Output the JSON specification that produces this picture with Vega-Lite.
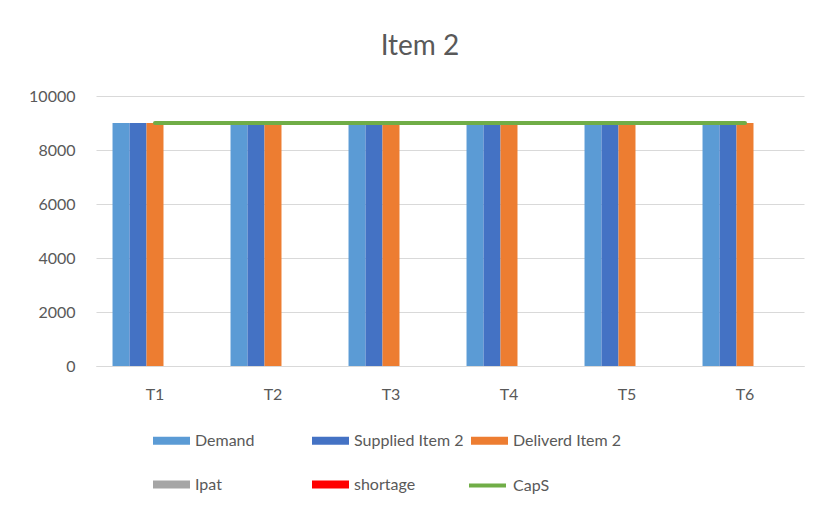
{
  "$schema": "https://vega.github.io/schema/vega-lite/v6.json",
  "autosize": "none",
  "width": 708,
  "height": 270,
  "padding": {"left": 96, "top": 96, "right": 17, "bottom": 146},
  "background": "white",
  "title": {"text": "Item 2", "fontSize": 28, "font": "Lato", "fontWeight": "normal", "color": "#595959", "anchor": "middle", "dx": -30, "offset": 27},
  "config": {
    "view": {"stroke": null},
    "font": "Lato"
  },
  "data": {
    "values": [
      {"t": "T1", "series": "Demand", "value": 9000},
      {"t": "T1", "series": "Supplied Item 2", "value": 9000},
      {"t": "T1", "series": "Deliverd Item 2", "value": 9000},
      {"t": "T1", "series": "Ipat", "value": 0},
      {"t": "T1", "series": "shortage", "value": 0},
      {"t": "T1", "series": "CapS", "value": 9000},
      {"t": "T2", "series": "Demand", "value": 9000},
      {"t": "T2", "series": "Supplied Item 2", "value": 9000},
      {"t": "T2", "series": "Deliverd Item 2", "value": 9000},
      {"t": "T2", "series": "Ipat", "value": 0},
      {"t": "T2", "series": "shortage", "value": 0},
      {"t": "T2", "series": "CapS", "value": 9000},
      {"t": "T3", "series": "Demand", "value": 9000},
      {"t": "T3", "series": "Supplied Item 2", "value": 9000},
      {"t": "T3", "series": "Deliverd Item 2", "value": 9000},
      {"t": "T3", "series": "Ipat", "value": 0},
      {"t": "T3", "series": "shortage", "value": 0},
      {"t": "T3", "series": "CapS", "value": 9000},
      {"t": "T4", "series": "Demand", "value": 9000},
      {"t": "T4", "series": "Supplied Item 2", "value": 9000},
      {"t": "T4", "series": "Deliverd Item 2", "value": 9000},
      {"t": "T4", "series": "Ipat", "value": 0},
      {"t": "T4", "series": "shortage", "value": 0},
      {"t": "T4", "series": "CapS", "value": 9000},
      {"t": "T5", "series": "Demand", "value": 9000},
      {"t": "T5", "series": "Supplied Item 2", "value": 9000},
      {"t": "T5", "series": "Deliverd Item 2", "value": 9000},
      {"t": "T5", "series": "Ipat", "value": 0},
      {"t": "T5", "series": "shortage", "value": 0},
      {"t": "T5", "series": "CapS", "value": 9000},
      {"t": "T6", "series": "Demand", "value": 9000},
      {"t": "T6", "series": "Supplied Item 2", "value": 9000},
      {"t": "T6", "series": "Deliverd Item 2", "value": 9000},
      {"t": "T6", "series": "Ipat", "value": 0},
      {"t": "T6", "series": "shortage", "value": 0},
      {"t": "T6", "series": "CapS", "value": 9000}
    ]
  },
  "encoding": {
    "x": {
      "field": "t", "type": "nominal", "title": null,
      "scale": {"paddingInner": 0.28, "paddingOuter": 0.14},
      "axis": {"labelAngle": 0, "labelFontSize": 16, "labelColor": "#595959", "labelPadding": 20, "ticks": false, "domainColor": "#D9D9D9", "domainWidth": 1, "grid": false}
    },
    "y": {
      "field": "value", "type": "quantitative", "title": null,
      "scale": {"domain": [0, 10000], "nice": false},
      "axis": {"values": [0, 2000, 4000, 6000, 8000, 10000], "format": "d", "labelFontSize": 16, "labelColor": "#595959", "labelPadding": 21, "ticks": false, "domain": false, "gridColor": "#D9D9D9", "gridWidth": 1}
    }
  },
  "layer": [
    {
      "transform": [{"filter": "datum.series !== 'CapS'"}],
      "mark": {"type": "bar"},
      "encoding": {
        "xOffset": {"field": "series", "type": "nominal", "sort": ["Demand", "Supplied Item 2", "Deliverd Item 2", "Ipat", "shortage"], "scale": {"paddingInner": 0, "paddingOuter": 0}},
        "color": {
          "field": "series", "type": "nominal",
          "scale": {
            "domain": ["Demand", "Supplied Item 2", "Deliverd Item 2", "Ipat", "shortage"],
            "range": ["#5B9BD5", "#4472C4", "#ED7D31", "#A5A5A5", "#FF0000"]
          },
          "legend": {
            "title": null,
            "orient": "none",
            "legendX": 57,
            "legendY": 326,
            "direction": "horizontal",
            "columns": 3,
            "gridAlign": "all",
            "columnPadding": 7,
            "rowPadding": 17,
            "symbolSize": 1369,
            "symbolType": "M-1,-0.22H1V0.22H-1Z",
            "symbolStrokeWidth": 0,
            "labelFontSize": 16,
            "labelColor": "#595959",
            "labelOffset": 5,
            "labelFont": "Lato"
          }
        }
      }
    },
    {
      "transform": [{"filter": "datum.series === 'CapS'"}],
      "mark": {"type": "line", "strokeWidth": 4, "strokeCap": "round"},
      "encoding": {
        "stroke": {
          "field": "series", "type": "nominal",
          "scale": {"domain": ["CapS"], "range": ["#70AD47"]},
          "legend": {
            "title": null,
            "orient": "none",
            "legendX": 371,
            "legendY": 369,
            "symbolSize": 1369,
            "symbolType": "M-1,0H1",
            "symbolStrokeWidth": 4,
            "labelFontSize": 16,
            "labelColor": "#595959",
            "labelOffset": 5,
            "labelFont": "Lato"
          }
        }
      }
    }
  ]
}
